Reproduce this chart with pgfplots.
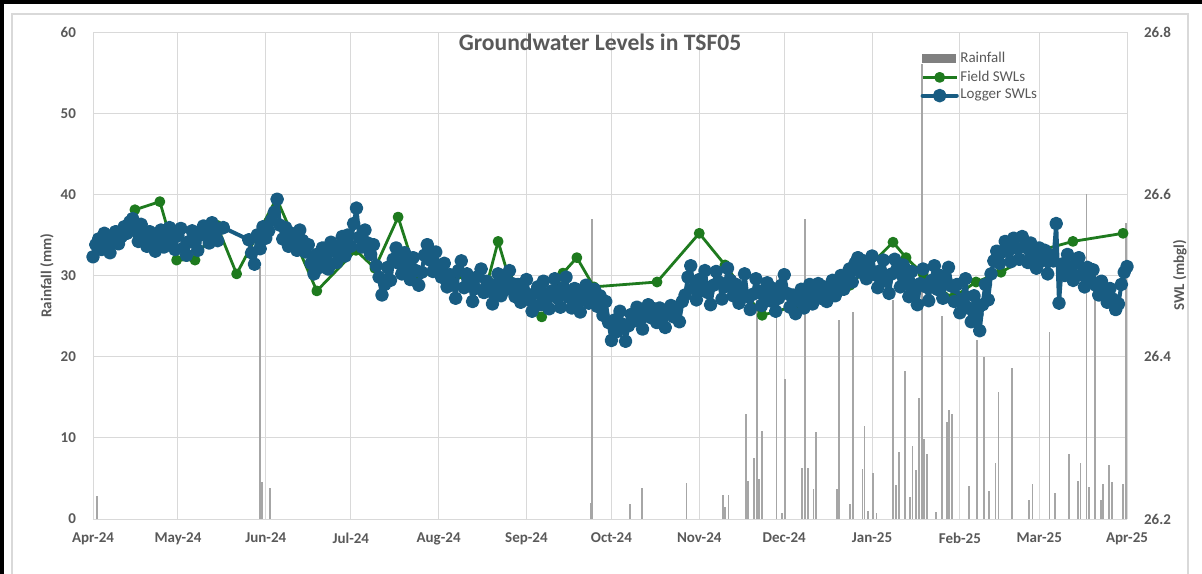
\documentclass[border=0pt]{standalone}
\usepackage{fontspec}
\setmainfont{Carlito}
\usepackage{pgfplots}
\pgfplotsset{compat=1.18}
\definecolor{txt}{HTML}{595959}
\definecolor{gridc}{HTML}{D9D9D9}
\definecolor{rain}{HTML}{A6A6A6}
\definecolor{fieldc}{HTML}{1E7A1E}
\definecolor{logc}{HTML}{185C82}
\begin{document}
\begin{tikzpicture}
\useasboundingbox (-46.5pt,-27pt) rectangle (554.5pt,259.5pt);
\fill[white] (-46.5pt,-27pt) rectangle (554.5pt,259.5pt);
\draw[gridc, line width=0.6pt] (-40.5pt,-30pt) -- (-40.5pt,252.5pt) -- (547.5pt,252.5pt) -- (547.5pt,-30pt);
\draw[black, line width=1.8pt] (-45.6pt,-30pt) -- (-45.6pt,258.6pt) -- (560pt,258.6pt);
\begin{axis}[
  at={(0,0)}, anchor=south west, scale only axis,
  width=517pt, height=243.5pt,
  xmin=0, xmax=365, ymin=0, ymax=60,
  axis x line*=bottom, axis y line*=left,
  axis line style={draw=none},
  major tick length=0pt,
  xtick={0,30,61,91,122,153,183,214,244,275,306,334,365},
  xticklabels={Apr-24,May-24,Jun-24,Jul-24,Aug-24,Sep-24,Oct-24,Nov-24,Dec-24,Jan-25,Feb-25,Mar-25,Apr-25},
  ytick={0,10,20,30,40,50,60},
  grid=major, grid style={gridc, line width=0.5pt},
  /pgf/number format/assume math mode=true,
  tick label style={font=\bfseries\fontsize{7.5}{9}\selectfont, text=txt},
  xticklabel style={yshift=-3.5pt},
  yticklabel style={xshift=-5pt},
  ylabel={Rainfall (mm)},
  ylabel style={font=\bfseries\fontsize{7.5}{9}\selectfont, text=txt, at={(axis description cs:-0.0445,0.5)}, anchor=center},
]
\addplot[ycomb, rain, line width=0.9pt, forget plot] coordinates {
(1.4,2.8)(58.9,31)(59.7,4.5)(62.5,3.8)(175.6,2.0)(176.2,37.0)(189.5,1.8)(193.8,3.8)(209.5,4.4)
(222.3,3.0)(223.1,1.5)(224.3,3.0)(230.4,12.9)(231.3,4.7)(233.3,7.5)(234.5,27)(235.2,4.9)(236.2,10.9)
(241.3,30)(243.1,0.7)(244.3,17.2)(250.3,6.3)(251.3,37.0)(252.4,6.3)(254.3,3.7)(255.2,10.7)
(262.5,3.7)(263.4,24.5)(267.2,1.9)(268.4,25.5)(271.6,6.2)(272.3,11.4)(273.5,1.0)(275.4,5.7)(276.6,0.7)
(282.3,27)(283.4,4.2)(284.5,8.2)(286.6,18.2)(288.4,2.75)(289.3,9.0)(290.5,6.0)(291.5,14.9)(292.5,56.1)
(293.3,9.9)(294.3,8.0)(297.6,0.9)(299.6,25)(301.4,12.0)(302.3,13.4)(303.3,12.9)(309.3,4.1)(312.1,22.0)
(314.5,19.9)(316.4,3.4)(318.6,6.9)(319.6,15.6)(324.5,18.6)(330.5,2.3)(331.6,4.3)(337.6,23.0)(339.6,3.2)
(344.6,8.0)(347.6,4.7)(348.6,6.9)(350.7,40.1)(351.6,3.9)(353.7,27.3)(355.8,2.3)(356.6,4.3)(358.7,6.7)
(359.8,4.5)(363.7,4.3)(364.6,36.5)
};
\end{axis}
\begin{axis}[
  at={(0,0)}, anchor=south west, scale only axis,
  width=517pt, height=243.5pt,
  xmin=0, xmax=365, ymin=26.2, ymax=26.8,
  axis x line=none, axis y line*=right,
  axis line style={draw=none},
  major tick length=0pt,
  ytick={26.2,26.4,26.6,26.8},
  /pgf/number format/assume math mode=true,
  yticklabel={\pgfmathprintnumber[fixed,fixed zerofill,precision=1]{\tick}},
  tick label style={font=\bfseries\fontsize{7.5}{9}\selectfont, text=txt},
  yticklabel style={xshift=5pt},
  ylabel={SWL (mbgl)},
  ylabel style={font=\bfseries\fontsize{7.5}{9}\selectfont, text=txt, at={(axis description cs:1.051,0.5)}, anchor=center, rotate=0},
  legend style={at={(rel axis cs:0.80,0.963)}, anchor=north west, draw=none, fill=none,
    font=\fontsize{7.5}{8.5}\selectfont, text=txt, inner sep=0pt, row sep=1pt,
    nodes={inner sep=0.8pt}},
  legend cell align=left,
]
\addlegendimage{legend image code/.code={\fill[gray] (0cm,-2pt) rectangle (0.58cm,2pt);}}
\addlegendentry{Rainfall}
\addplot[fieldc, line width=1.4pt, line join=round, mark=*, mark size=2pt, mark options={fill=fieldc, draw=fieldc}] coordinates {
(14.8,26.581)(23.6,26.591)(29.5,26.519)(36.0,26.519)(43.7,26.562)(50.7,26.502)(64.8,26.595)(79.0,26.481)
(92.8,26.531)(99.5,26.509)(107.7,26.572)(114.0,26.503)(139.4,26.494)(143.0,26.542)(146.5,26.501)(158.4,26.449)
(165.9,26.503)(170.8,26.522)(176.8,26.486)(199.1,26.492)(214.0,26.552)(223.1,26.513)(236.2,26.451)(249.6,26.464)
(267.2,26.488)(282.4,26.541)(287.0,26.522)(293.0,26.502)(303.2,26.472)(311.7,26.492)(320.5,26.504)(334.3,26.531)
(345.9,26.542)(363.6,26.552)
};
\addlegendentry{Field SWLs}
\addplot[logc, line width=2pt, line join=round, line cap=round, mark=*, mark size=2.4pt, mark options={fill=logc, draw=logc}] coordinates {
(0,26.523)(1,26.538)(2,26.545)(3,26.532)(4,26.552)(5,26.540)(6,26.528)(7,26.546)(8,26.554)(9,26.539)
(10,26.548)(11,26.560)(12,26.552)(13,26.566)(14,26.570)(15,26.555)(16,26.542)(17,26.563)(18,26.550)(19,26.536)
(20,26.554)(21,26.541)(22,26.530)(23,26.548)(24,26.556)(25,26.535)(26,26.543)(27,26.559)(28,26.546)(29,26.532)
(30,26.549)(31,26.558)(32,26.534)(33,26.525)(34,26.542)(35,26.555)(36,26.540)(37,26.531)(38,26.550)(39,26.561)
(40,26.552)(41,26.540)(42,26.565)(43,26.551)(44,26.543)(45,26.558)(46,26.559)
(55,26.544)(56,26.528)(57,26.514)(58,26.550)(59,26.533)(60,26.560)(61,26.546)(62,26.555)(63,26.568)(64,26.578)(65,26.594)(66,26.562)
(67,26.545)(68,26.559)(69,26.536)(70,26.552)(71,26.540)(72,26.531)(73,26.556)(74,26.543)(75,26.529)(76,26.538)
(77,26.515)(78,26.502)(79,26.526)(80,26.510)(81,26.534)(82,26.522)(83,26.508)(84,26.541)(85,26.530)(86,26.516)
(87,26.535)(88,26.548)(89,26.524)(90,26.550)(91,26.536)(92,26.564)(93,26.583)(94,26.547)(95,26.535)(96,26.556)
(97,26.540)(98,26.526)(99,26.538)(100,26.512)(101,26.498)(102,26.476)(103,26.489)(104,26.510)(105,26.494)(106,26.520)
(107,26.534)(108,26.515)(109,26.502)(110,26.528)(111,26.510)(112,26.495)(113,26.522)(114,26.506)(115,26.488)(116,26.504)
(117,26.525)(118,26.538)(119,26.519)(120,26.505)(121,26.529)(122,26.512)(123,26.498)(124,26.515)(125,26.486)(126,26.501)
(127,26.490)(128,26.472)(129,26.506)(130,26.518)(131,26.485)(132,26.502)(133,26.491)(134,26.468)(135,26.484)(136,26.499)
(137,26.508)(138,26.479)(139,26.493)(140,26.481)(141,26.465)(142,26.488)(143,26.502)(144,26.475)(145,26.496)(146,26.483)
(147,26.506)(148,26.490)(149,26.474)(150,26.489)(151,26.467)(152,26.482)(153,26.495)(154,26.470)(155,26.456)(156,26.478)
(157,26.486)(158,26.464)(159,26.493)(160,26.476)(161,26.459)(162,26.481)(163,26.496)(164,26.472)(165,26.461)(166,26.485)
(167,26.498)(168,26.473)(169,26.460)(170,26.484)(171,26.471)(172,26.455)(173,26.479)(174,26.488)(175,26.466)(176,26.474)
(177,26.483)(178,26.462)(179,26.475)(180,26.451)(181,26.468)(182,26.442)(183,26.420)(184,26.445)(185,26.431)(186,26.456)
(187,26.440)(188,26.419)(189,26.438)(190,26.452)(191,26.444)(192,26.461)(193,26.447)(194,26.434)(195,26.453)(196,26.464)
(197,26.448)(198,26.459)(199,26.442)(200,26.460)(201,26.451)(202,26.436)(203,26.455)(204,26.463)(205,26.449)(206,26.458)
(207,26.443)(208,26.468)(209,26.476)(210,26.498)(211,26.512)(212,26.484)(213,26.470)(214,26.495)(215,26.482)(216,26.506)
(217,26.479)(218,26.464)(219,26.488)(220,26.505)(221,26.492)(222,26.471)(223,26.486)(224,26.509)(225,26.494)(226,26.475)
(227,26.489)(228,26.466)(229,26.480)(230,26.502)(231,26.474)(232,26.458)(233,26.477)(234,26.496)(235,26.481)(236,26.463)
(237,26.475)(238,26.491)(239,26.469)(240,26.484)(241,26.456)(242,26.472)(243,26.488)(244,26.501)(245,26.478)(246,26.461)
(247,26.476)(248,26.453)(249,26.469)(250,26.483)(251,26.460)(252,26.474)(253,26.489)(254,26.465)(255,26.478)(256,26.490)
(257,26.472)(258,26.486)(259,26.468)(260,26.480)(261,26.494)(262,26.475)(263,26.487)(264,26.500)(265,26.483)(266,26.496)
(267,26.508)(268,26.492)(269,26.515)(270,26.522)(271,26.504)(272,26.518)(273,26.496)(274,26.510)(275,26.524)(276,26.501)
(277,26.485)(278,26.506)(279,26.519)(280,26.493)(281,26.478)(282,26.502)(283,26.520)(284,26.509)(285,26.486)(286,26.513)
(287,26.497)(288,26.474)(289,26.505)(290,26.482)(291,26.464)(292,26.490)(293,26.508)(294,26.486)(295,26.469)(296,26.494)
(297,26.512)(298,26.483)(299,26.500)(300,26.472)(301,26.495)(302,26.510)(303,26.487)(304,26.468)(305,26.489)(306,26.454)
(307,26.471)(308,26.496)(309,26.460)(310,26.443)(311,26.475)(312,26.452)(313,26.432)(314,26.464)(315,26.489)(316,26.470)
(317,26.502)(318,26.518)(319,26.530)(320,26.515)(321,26.529)(322,26.542)(323,26.531)(324,26.517)(325,26.546)(326,26.534)
(327,26.520)(328,26.548)(329,26.535)(330,26.516)(331,26.540)(332,26.527)(333,26.509)(334,26.534)(335,26.518)(336,26.531)
(337,26.502)(338,26.525)(339,26.518)(340,26.564)(341,26.466)(342,26.514)(343,26.500)(344,26.526)(345,26.508)(346,26.494)
(347,26.515)(348,26.522)(349,26.501)(350,26.486)(351,26.510)(352,26.495)(353,26.507)(354,26.488)(355,26.476)(356,26.493)
(357,26.479)(358,26.467)(359,26.484)(360,26.471)(361,26.458)(362,26.465)(363,26.489)(364,26.504)(365,26.511)
};
\addlegendentry{Logger SWLs}
\end{axis}
\node[font=\bfseries\fontsize{11.8}{14}\selectfont, text=txt] at (253.5pt,238.5pt) {Groundwater Levels in TSF05};
\end{tikzpicture}
\end{document}
